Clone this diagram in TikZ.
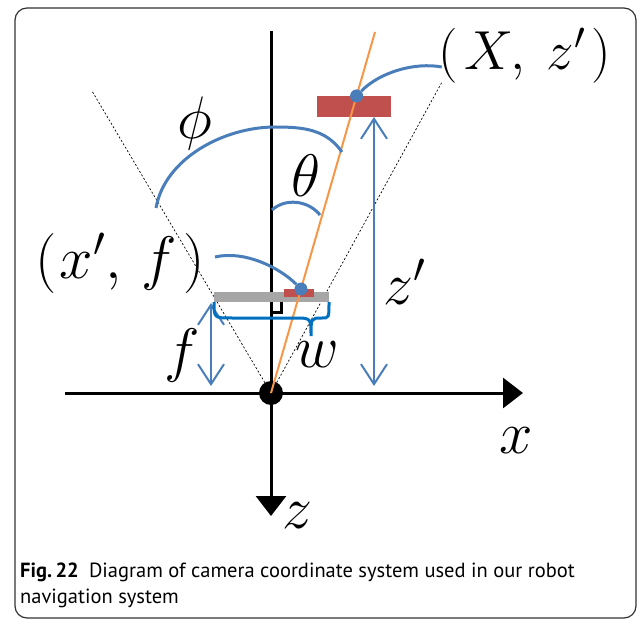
\RequirePackage{fix-cm}
\documentclass[tikz,border=0pt]{standalone}
\usepackage{fontspec}
\newfontfamily\capfont{PT Sans}
\usetikzlibrary{arrows.meta,calc}
\definecolor{lblue}{RGB}{74,126,187}
\definecolor{bblue}{RGB}{0,112,192}
\definecolor{lred}{RGB}{192,80,77}
\definecolor{lorange}{RGB}{247,150,70}
\definecolor{lgray}{RGB}{166,166,166}
\begin{document}
\begin{tikzpicture}[x=1pt,y=-1pt,
    lbl/.style={font=\fontsize{60}{60}\selectfont,inner sep=0pt},
    axis/.style={line width=3pt,-{Triangle[length=20pt,width=30pt]}},
    dimarrow/.style={lblue,line width=2pt,{Straight Barb[length=20pt,width=26pt]}-{Straight Barb[length=20pt,width=26pt]}},
    arcline/.style={lblue,line width=3pt},
    dot/.style={circle,fill=lblue,inner sep=0pt,minimum size=13pt}]
  \useasboundingbox (0,0) rectangle (637,620);
  \draw[rounded corners=12pt,gray!40!black,line width=1.2pt] (15,8) rectangle (636,618);
    % axes and camera centre
    \node[circle,fill=black,minimum size=24pt,inner sep=0pt] (O) at (271,393) {};
    \coordinate (xleft) at (65,393);
    \coordinate (xright) at (523,393);
    \coordinate (ztop) at (271,31);
    \coordinate (zbot) at (271,516);
    \draw[axis] (xleft) -- (xright);
    \draw[axis] (ztop) -- (zbot);
    % field of view
    \coordinate (fovl) at (92,91);
    \coordinate (fovr) at (442,82);
    \draw[dashed,dash pattern=on 2pt off 2pt,line width=0.7pt] (O.center) -- (fovl);
    \draw[dashed,dash pattern=on 2pt off 2pt,line width=0.7pt] (O.center) -- (fovr);
    % image plane and object
    \fill[lgray] (214,292) rectangle (329,302);
    \fill[lred] (284,289) rectangle (314,297);
    \fill[lred] (317,96) rectangle (391,117);
    \draw[line width=3pt] (281,302) -- (281,312.5) -- (271,312.5);
    \coordinate (ray) at (375,32);
    \draw[lorange,line width=2pt] (O.center) -- (ray);
    % dimensions
    \draw[dimarrow] (374,117) -- (374,386);
    \draw[dimarrow] (211,303) -- (211,386);
    \draw[bblue,line width=3pt] (214,302) .. controls (214,318) .. (232,318) -- (295,318)
      .. controls (311,318) .. (311,336) .. controls (311,318) .. (322,318)
      .. controls (329,318) .. (329,302);
    % labels
    \node[lbl] (phi) at (195,124) {$\phi$};
    \node[lbl] (theta) at (306,176) {$\theta$};
    \node[lbl,font=\fontsize{55}{55}\selectfont] (Xz) at (525,55.5) {$(\mkern2mu X,\mkern4mu z'\mkern2mu)$};
    \node[lbl] (xf) at (120,263.5) {$(\mkern1mu x',\mkern3mu f\mkern2mu)$};
    \node[lbl] (zp) at (405,282) {$z'$};
    \node[lbl] (flbl) at (182,355) {$f$};
    \node[lbl] (wlbl) at (317,355) {$w$};
    \node[lbl] (xlbl) at (516,441) {$x$};
    \node[lbl] (zlbl) at (297,516) {$z$};
    % angles
    \draw[arcline] (156,208) to[out=80,in=180,looseness=0.9] (275,127) to[out=0,in=125] (342,152);
    \draw[arcline] (272,210) .. controls (285,198) and (308,200) .. (320,215);
    % points and leaders
    \node[dot] (far) at ($(O.center)!0.823!(ray)$) {};
    \node[dot] (near) at ($(O.center)!0.288!(ray)$) {};
    \draw[arcline] (far) .. controls (380,72) and (415,62) .. ([yshift=-11.5pt,xshift=3pt]Xz.west);
    \draw[arcline] ([yshift=6.5pt,xshift=10pt]xf.east) .. controls (245,250) and (280,268) .. (near);
    % caption
    \node[anchor=north west,align=left,inner sep=0pt,font=\capfont\fontsize{20.5}{26}\selectfont] (cap)
      at (20,563) {\textbf{Fig.\,22}\hspace{0.5em}Diagram of camera coordinate system used in our robot\\navigation system};
  \end{tikzpicture}
\end{document}
